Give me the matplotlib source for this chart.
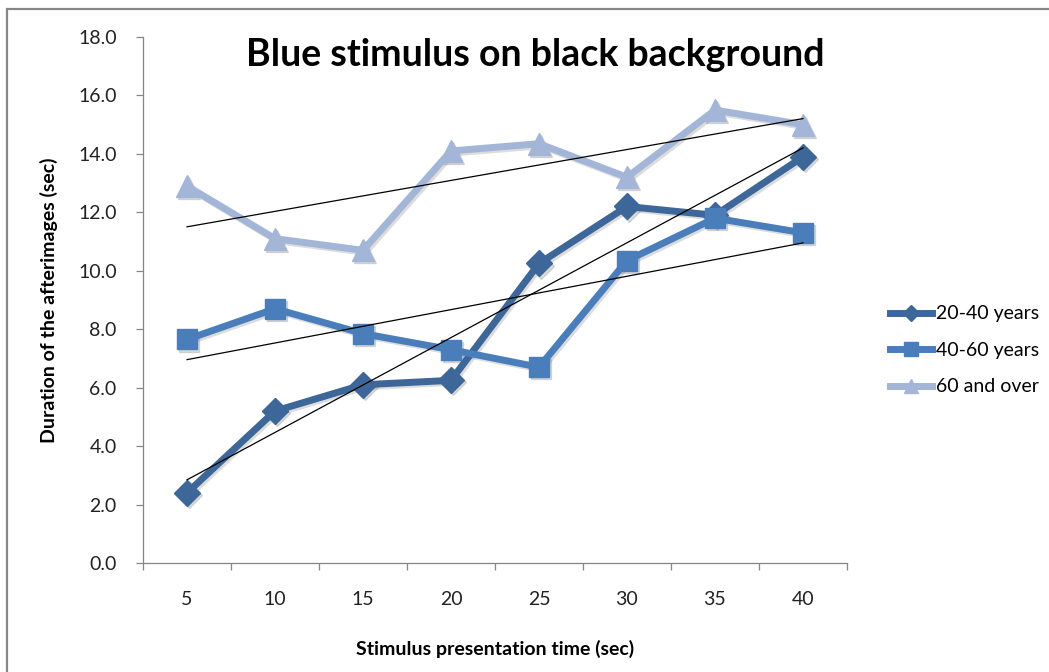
import matplotlib
matplotlib.use("Agg")
import matplotlib.pyplot as plt
import matplotlib.transforms as mtransforms
from matplotlib.patches import Rectangle
import numpy as np

plt.rcParams['font.family'] = ['Lato', 'DejaVu Sans']

times = ["5", "10", "15", "20", "25", "30", "35", "40"]
age_20_40 = [2.4, 5.2, 6.1, 6.25, 10.25, 12.2, 11.9, 13.9]
age_40_60 = [7.65, 8.7, 7.85, 7.3, 6.7, 10.35, 11.8, 11.3]
age_60_plus = [12.9, 11.1, 10.7, 14.1, 14.35, 13.2, 15.5, 15.0]
series_names = ["20-40 years", "40-60 years", "60 and over"]
yticks = [0.0, 2.0, 4.0, 6.0, 8.0, 10.0, 12.0, 14.0, 16.0, 18.0]

colors = ["#3D6699", "#4A7EBB", "#A3B6D7"]
markers = ["D", "s", "^"]
msizes = [13, 15, 16]

fig = plt.figure(figsize=(10.49, 6.72), dpi=100)
ax = fig.add_axes([143/1049, 109/672, (847-143)/1049, (563-37)/672])

x = np.arange(len(times))
shadow = ax.transData + mtransforms.ScaledTranslation(1.5/72, -1.5/72, fig.dpi_scale_trans)

handles = []
for vals, name, c, m, ms in zip([age_20_40, age_40_60, age_60_plus], series_names, colors, markers, msizes):
    ax.plot(x, vals, color="#777777", alpha=0.25, lw=5, marker=m, ms=ms,
            transform=shadow, zorder=2, solid_joinstyle="miter")
    h, = ax.plot(x, vals, color=c, lw=5, marker=m, ms=ms, mec=c, mfc=c,
                 label=name, zorder=3, solid_joinstyle="miter")
    handles.append(h)

# linear trendlines over the category index
for vals in [age_20_40, age_40_60, age_60_plus]:
    k, b = np.polyfit(x + 1, vals, 1)
    ax.plot(x, k * (x + 1) + b, color="black", lw=0.9, zorder=4)

ax.set_xlim(-0.5, len(times) - 0.5)
ax.set_ylim(0, 18)
ax.set_yticks(yticks)
ax.set_yticklabels([f"{v:.1f}" for v in yticks])
ax.set_xticks(np.arange(-0.5, len(times), 1.0))
ax.set_xticklabels([])
ax.set_xticks(x, minor=True)
ax.set_xticklabels(times, minor=True)

for s in ["top", "right"]:
    ax.spines[s].set_visible(False)
for s in ["left", "bottom"]:
    ax.spines[s].set_color("#868686")
    ax.spines[s].set_linewidth(0.9)

ax.tick_params(axis="y", which="major", length=5, color="#868686", width=0.9,
               labelsize=14, labelcolor="#222222", pad=14)
ax.tick_params(axis="x", which="major", length=5, color="#868686", width=0.9)
ax.tick_params(axis="x", which="minor", length=0, labelsize=14,
               labelcolor="#222222", pad=20)

ax.set_ylabel("Duration of the afterimages (sec)", fontsize=14, fontweight="bold")
ax.set_xlabel("Stimulus presentation time (sec)", fontsize=14, fontweight="bold")
ax.yaxis.set_label_coords(-85/704, 0.5)
ax.xaxis.set_label_coords(352/704, -77/526)

fig.text(535/1049, 1 - 55/672, "Blue stimulus on black background", ha="center", va="center",
         fontsize=27, fontweight="bold", color="black")

fig.legend(handles=handles, loc="upper left", bbox_to_anchor=(872/1049, 1 - 288/672),
           frameon=False, fontsize=14, handlelength=2.2, labelspacing=1.0,
           handletextpad=0.2, markerscale=0.65)

fig.patches.append(Rectangle((7/1049, -0.05), 1.2, (672 - 9)/672 + 0.05,
                             transform=fig.transFigure, fill=False,
                             edgecolor="#868686", lw=1.6))

fig.savefig("out.png", dpi=100)
